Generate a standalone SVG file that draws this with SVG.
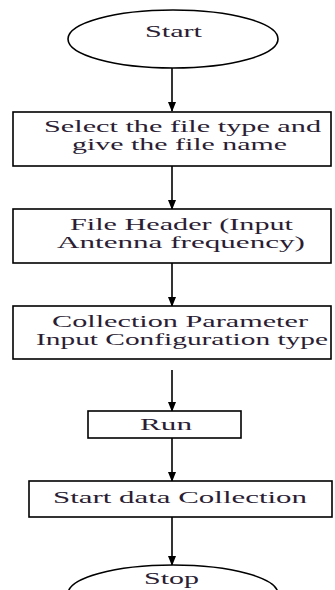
<svg xmlns="http://www.w3.org/2000/svg" width="335" height="590" viewBox="0 0 335 590">
<defs>
<marker id="ah" markerWidth="10" markerHeight="8" refX="9" refY="4" orient="auto" markerUnits="userSpaceOnUse">
<path d="M0,0 L10,4 L0,8 Z" fill="#000"/>
</marker>
<style>
.box{fill:#fff;stroke:#000;stroke-width:1.6}
.t{font-family:"Liberation Serif","Times New Roman",serif;font-size:16px;fill:#2b1d33}
.c{stroke:#000;stroke-width:1.6;fill:none;marker-end:url(#ah)}
</style>
</defs>
<rect width="335" height="590" fill="#fff"/>
<g id="connectors">
<line class="c" x1="172" y1="68" x2="172" y2="111"/>
<line class="c" x1="172" y1="166" x2="172" y2="209"/>
<line class="c" x1="172" y1="263" x2="172" y2="306"/>
<line class="c" x1="172" y1="370" x2="172" y2="411"/>
<line class="c" x1="172" y1="438" x2="172" y2="481"/>
<line class="c" x1="172" y1="517" x2="172" y2="565"/>
</g>
<g id="start">
<ellipse class="box" cx="173" cy="39" rx="105" ry="29"/>
<text class="t" x="145" y="37" textLength="57" lengthAdjust="spacingAndGlyphs">Start</text>
</g>
<g id="select">
<rect class="box" x="13" y="112" width="318" height="54"/>
<text class="t" x="44" y="132" textLength="277" lengthAdjust="spacingAndGlyphs">Select the file type and</text>
<text class="t" x="72" y="150" textLength="215" lengthAdjust="spacingAndGlyphs">give the file name</text>
</g>
<g id="header">
<rect class="box" x="13" y="209" width="318" height="54"/>
<text class="t" x="70" y="230" textLength="223" lengthAdjust="spacingAndGlyphs">File Header (Input</text>
<text class="t" x="57" y="248" textLength="248" lengthAdjust="spacingAndGlyphs">Antenna frequency)</text>
</g>
<g id="collection">
<rect class="box" x="13" y="306" width="318" height="53"/>
<text class="t" x="52" y="327" textLength="256" lengthAdjust="spacingAndGlyphs">Collection Parameter</text>
<text class="t" x="36" y="345" textLength="292" lengthAdjust="spacingAndGlyphs">Input Configuration type</text>
</g>
<g id="run">
<rect class="box" x="88" y="411" width="153" height="27"/>
<text class="t" x="140" y="430" textLength="52" lengthAdjust="spacingAndGlyphs">Run</text>
</g>
<g id="startdata">
<rect class="box" x="29" y="481" width="303" height="36"/>
<text class="t" x="53" y="503" textLength="254" lengthAdjust="spacingAndGlyphs">Start data Collection</text>
</g>
<g id="stop">
<ellipse class="box" cx="173" cy="594" rx="105" ry="29"/>
<text class="t" x="144" y="584" textLength="55" lengthAdjust="spacingAndGlyphs">Stop</text>
</g>
</svg>
